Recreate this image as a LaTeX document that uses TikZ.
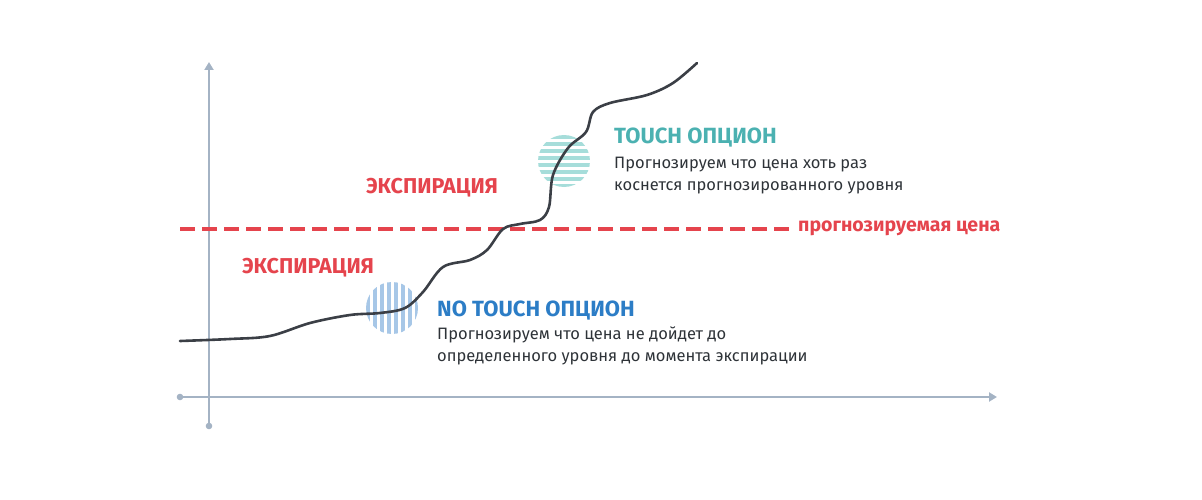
\documentclass[tikz,border=0pt]{standalone}
\usepackage{fontspec}
\setmainfont{Fira Sans}
\usetikzlibrary{calc,arrows.meta}

\definecolor{axisgray}{HTML}{A4B3C4}
\definecolor{levelred}{HTML}{E5444D}
\definecolor{curvedark}{HTML}{3B3F46}
\definecolor{touchteal}{HTML}{4BB1B1}
\definecolor{notouchblue}{HTML}{2C7DC6}
\definecolor{bodytext}{HTML}{2E3338}
\definecolor{stripeblue}{HTML}{A7C7E7}
\definecolor{stripeteal}{HTML}{A6DDDA}

\tikzset{
  axisline/.style={draw=axisgray,line width=2.6pt,-{Triangle[length=8pt,width=9pt]}},
  redlabel/.style={text=levelred,font=\fontsize{19.5}{22}\selectfont\bfseries,inner sep=0pt},
  explabel/.style={redlabel,font=\fontsize{21.5}{24}\selectfont\bfseries},
  optitle/.style={font=\fontsize{22}{24}\selectfont\bfseries,anchor=base west,inner sep=0pt},
  optbody/.style={text=bodytext,font=\fontsize{16.5}{22}\selectfont,anchor=base west,inner sep=0pt,align=left}
}

\begin{document}
\begin{tikzpicture}[x=1pt,y=-1pt]
  \useasboundingbox (0,0) rectangle (1202,500);
  % axes
  \coordinate (xstart) at (180,397);
  \coordinate (xend) at (997,397);
  \coordinate (ystart) at (209,426);
  \coordinate (yend) at (209,62);
  \draw[axisline] (xstart) -- (xend);
  \draw[axisline] (ystart) -- (yend);
  \fill[axisgray] (xstart) circle (3.3) (ystart) circle (3.3);
  % forecast level
  \coordinate (lvlstart) at (180,229);
  \coordinate (lvlend) at (790,229);
  \draw[levelred,line width=3.3pt,dash pattern=on 15pt off 7pt] (lvlstart) -- (lvlend);
  \node[redlabel,anchor=west] (lvl) at (798,228) {прогнозируемая цена};
  \node[explabel] (expup) at (432,188) {ЭКСПИРАЦИЯ};
  \node[explabel] (explow) at (308,268) {ЭКСПИРАЦИЯ};
  % striped markers
  \begin{scope}
    \clip (392,308) circle (26);
    \foreach \x in {366,373,...,418}
      \fill[stripeblue] (\x,280) rectangle (\x+4,336);
  \end{scope}
  \begin{scope}
    \clip (564,161) circle (26);
    \foreach \y in {135,142,...,188}
      \fill[stripeteal] (536,\y) rectangle (592,\y+4);
  \end{scope}
  % price path
  \draw[curvedark,line width=2.6pt,line cap=round] plot[smooth,tension=0.55] coordinates {
    (180,341) (230,339) (270,336) (310,323) (350,315) (380,313) (405,308)
    (423,292) (443,267) (470,260) (487,250) (503,229) (520,224) (540,220)
    (549,207) (553,175) (568,148) (586,132) (593,112) (610,103) (647,95) (673,83) (697,63)};
  % option labels
  \node[optitle,text=touchteal] (touch) at (614,143) {TOUCH ОПЦИОН};
  \node[optbody] (touchtxt) at (614,190) {Прогнозируем что цена хоть раз\\коснется прогнозированного уровня};
  \node[optitle,text=notouchblue] (notouch) at (437,316) {NO TOUCH ОПЦИОН};
  \node[optbody] (notouchtxt) at (437,361) {Прогнозируем что цена не дойдет до\\определенного уровня до момента экспирации};
\end{tikzpicture}
\end{document}
